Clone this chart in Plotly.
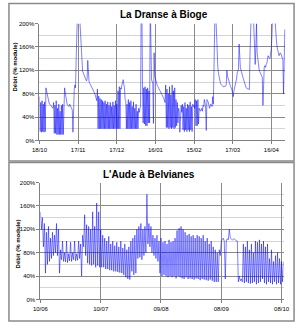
import pandas as pd
import plotly.graph_objects as go

# ---------------- data (half-day samples, % of module) ----------------
dranse_start = "2006-10-18"
dranse_end = "2007-04-27"
dranse_q = [
    75, 15, 65, 14, 68, 15, 62, 14, 66, 15, 90, 85, 78, 72, 66, 64, 62, 60, 60, 58,
    56, 55, 65, 12, 60, 12, 68, 10, 55, 10, 62, 10, 50, 10, 60, 10, 62, 10, 55, 90,
    82, 72, 66, 62, 60, 58, 58, 62, 60, 56, 55, 52, 14, 60, 88, 95, 90, 140, 230, 260,
    260, 240, 220, 200, 170, 140, 120, 118, 116, 112, 110, 105, 104, 102, 105, 137, 110, 100, 98, 96,
    94, 92, 90, 88, 86, 83, 80, 76, 72, 68, 88, 20, 76, 20, 72, 20, 70, 20, 68, 20,
    65, 20, 68, 20, 62, 20, 66, 20, 60, 20, 65, 20, 58, 20, 66, 20, 60, 20, 68, 20,
    62, 20, 85, 20, 92, 20, 90, 88, 95, 100, 104, 96, 90, 70, 68, 20, 62, 20, 70, 20,
    65, 20, 68, 20, 58, 20, 66, 20, 55, 20, 62, 20, 50, 20, 55, 48, 55, 60, 240, 230,
    95, 30, 90, 28, 92, 25, 88, 25, 90, 30, 85, 30, 240, 110, 105, 100, 100, 29, 150, 110,
    105, 100, 96, 94, 92, 90, 88, 86, 84, 82, 80, 78, 76, 72, 68, 65, 95, 22, 88, 22,
    80, 20, 92, 22, 78, 20, 95, 22, 85, 20, 90, 22, 70, 25, 65, 30, 55, 50, 14, 55,
    60, 48, 62, 18, 58, 15, 65, 18, 55, 15, 62, 18, 60, 15, 66, 18, 58, 15, 62, 58,
    60, 55, 70, 25, 68, 25, 70, 28, 55, 52, 50, 52, 55, 50, 60, 58, 70, 65, 55, 17,
    70, 68, 66, 60, 55, 58, 62, 60, 58, 75, 62, 120, 230, 260, 210, 175, 140, 125, 115, 108,
    102, 98, 96, 94, 93, 92, 92, 92, 92, 93, 95, 120, 110, 105, 100, 97, 95, 92, 90, 86,
    80, 75, 85, 90, 93, 95, 105, 115, 118, 122, 165, 130, 125, 120, 117, 112, 108, 104, 100, 96,
    92, 90, 89, 88, 88, 88, 87, 150, 230, 250, 260, 240, 220, 180, 140, 130, 160, 200, 150, 135,
    128, 122, 118, 115, 112, 110, 108, 60, 100, 125, 128, 125, 130, 132, 138, 145, 142, 140, 140, 150,
    155, 180, 230, 250, 240, 220, 200, 175, 170, 160, 155, 150, 145, 148, 150, 148, 145, 140, 138, 80,
    135, 190,
]

aude_start = "2007-06-10"
aude_end = "2007-10-09"
aude_q = [
    150, 120, 140, 90, 130, 45, 115, 60, 125, 65, 105, 70, 115, 75, 110, 80, 130, 75, 120, 45,
    85, 68, 100, 65, 80, 64, 100, 63, 78, 66, 98, 65, 80, 68, 100, 66, 78, 67, 100, 70,
    95, 40, 110, 90, 145, 75, 128, 62, 125, 60, 120, 58, 150, 60, 125, 55, 165, 58, 150, 55,
    120, 55, 110, 55, 105, 52, 100, 52, 108, 50, 95, 50, 100, 48, 92, 48, 98, 47, 90, 46,
    100, 45, 88, 42, 95, 38, 85, 35, 90, 34, 100, 48, 105, 42, 110, 45, 120, 70, 125, 72,
    130, 68, 120, 75, 125, 80, 180, 95, 130, 90, 125, 80, 110, 75, 105, 70, 110, 65, 100, 45,
    105, 40, 98, 42, 100, 40, 95, 38, 102, 40, 98, 38, 100, 40, 105, 36, 118, 40, 122, 38,
    125, 36, 120, 35, 115, 38, 110, 35, 112, 36, 108, 35, 110, 34, 105, 36, 110, 35, 108, 33,
    105, 35, 110, 34, 100, 33, 105, 32, 95, 34, 100, 32, 90, 30, 85, 30, 80, 30, 85, 75,
    100, 102, 105, 100, 35, 100, 104, 102, 120, 105, 104, 102, 103, 104, 102, 100, 100, 30, 40, 32,
    35, 30, 95, 28, 90, 30, 100, 28, 85, 27, 95, 28, 80, 30, 100, 26, 98, 28, 102, 30,
    95, 35, 100, 28, 90, 26, 95, 30, 70, 28, 85, 26, 65, 30, 75, 26, 80, 28, 70, 26,
    65, 30, 65,
]

titles = ["La Dranse à Bioge", "L'Aude à Belvianes"]
y_title = "Débit (% module)"

dranse_t = pd.date_range(dranse_start, periods=len(dranse_q), freq="12h")
aude_t = pd.date_range(aude_start, periods=len(aude_q), freq="12h")

# ---------------- layout helpers ----------------
W, H = 301, 325
fx = lambda px: px / W
fy = lambda py: 1 - py / H
FONT = "Liberation Sans, Arial, sans-serif"
DAY_MS = 86400000
LINE = dict(color="#0000ff", width=0.5)

fig = go.Figure()
fig.add_trace(go.Scatter(x=dranse_t, y=dranse_q, mode="lines", line=LINE,
                         xaxis="x", yaxis="y", showlegend=False, hoverinfo="skip"))
fig.add_trace(go.Scatter(x=aude_t, y=aude_q, mode="lines", line=LINE,
                         xaxis="x2", yaxis="y2", showlegend=False, hoverinfo="skip"))


def xax(domain, anchor, start, end):
    return dict(domain=domain, anchor=anchor, type="date", range=[start, end],
                tick0=start, dtick=30 * DAY_MS, tickformat="%d/%m",
                showgrid=True, gridcolor="#8a8a8a", gridwidth=1,
                showline=True, linecolor="#808080", linewidth=1,
                ticks="outside", ticklen=3, tickcolor="#808080",
                tickfont=dict(size=6, color="#000", family=FONT), fixedrange=True)


def yax(domain, anchor):
    return dict(domain=domain, anchor=anchor, range=[0, 200], dtick=40, ticksuffix="%",
                showgrid=True, gridcolor="#8a8a8a", gridwidth=1, zeroline=False,
                minor=dict(dtick=20, showgrid=True, gridcolor="#d4d4d4", ticks=""),
                showline=True, linecolor="#808080", linewidth=1,
                ticks="outside", ticklen=3, tickcolor="#808080",
                tickfont=dict(size=6, color="#000", family=FONT), fixedrange=True)


fig.update_layout(
    width=W, height=H, autosize=False,
    margin=dict(l=0, r=0, t=0, b=0, pad=0),
    paper_bgcolor="white", plot_bgcolor="white",
    xaxis=xax([fx(33), fx(291)], "y", dranse_start, dranse_end),
    yaxis=yax([fy(140), fy(21)], "x"),
    xaxis2=xax([fx(34), fx(289)], "y2", aude_start, aude_end),
    yaxis2=yax([fy(302), fy(183)], "x2"),
    annotations=[
        dict(text="<b>%s</b>" % titles[0], x=fx(164), y=fy(12), xref="paper", yref="paper",
             showarrow=False, xanchor="center", yanchor="middle",
             font=dict(size=10, color="#000", family=FONT)),
        dict(text="<b>%s</b>" % titles[1], x=fx(148), y=fy(175), xref="paper", yref="paper",
             showarrow=False, xanchor="center", yanchor="middle",
             font=dict(size=10, color="#000", family=FONT)),
        dict(text="<b>%s</b>" % y_title, x=fx(7), y=fy(65), xref="paper", yref="paper",
             showarrow=False, xanchor="center", yanchor="middle", textangle=-90,
             font=dict(size=6, color="#000", family=FONT)),
        dict(text="<b>%s</b>" % y_title, x=fx(11.5), y=fy(245), xref="paper", yref="paper",
             showarrow=False, xanchor="center", yanchor="middle", textangle=-90,
             font=dict(size=6, color="#000", family=FONT)),
    ],
    shapes=[
        dict(type="rect", xref="paper", yref="paper", x0=fx(1), x1=fx(300), y0=fy(161), y1=fy(0.5),
             line=dict(color="#8a8a8a", width=1.5)),
        dict(type="rect", xref="paper", yref="paper", x0=fx(1), x1=fx(300), y0=fy(324), y1=fy(162.5),
             line=dict(color="#8a8a8a", width=1.5)),
    ],
)

fig.write_html("out.html")
